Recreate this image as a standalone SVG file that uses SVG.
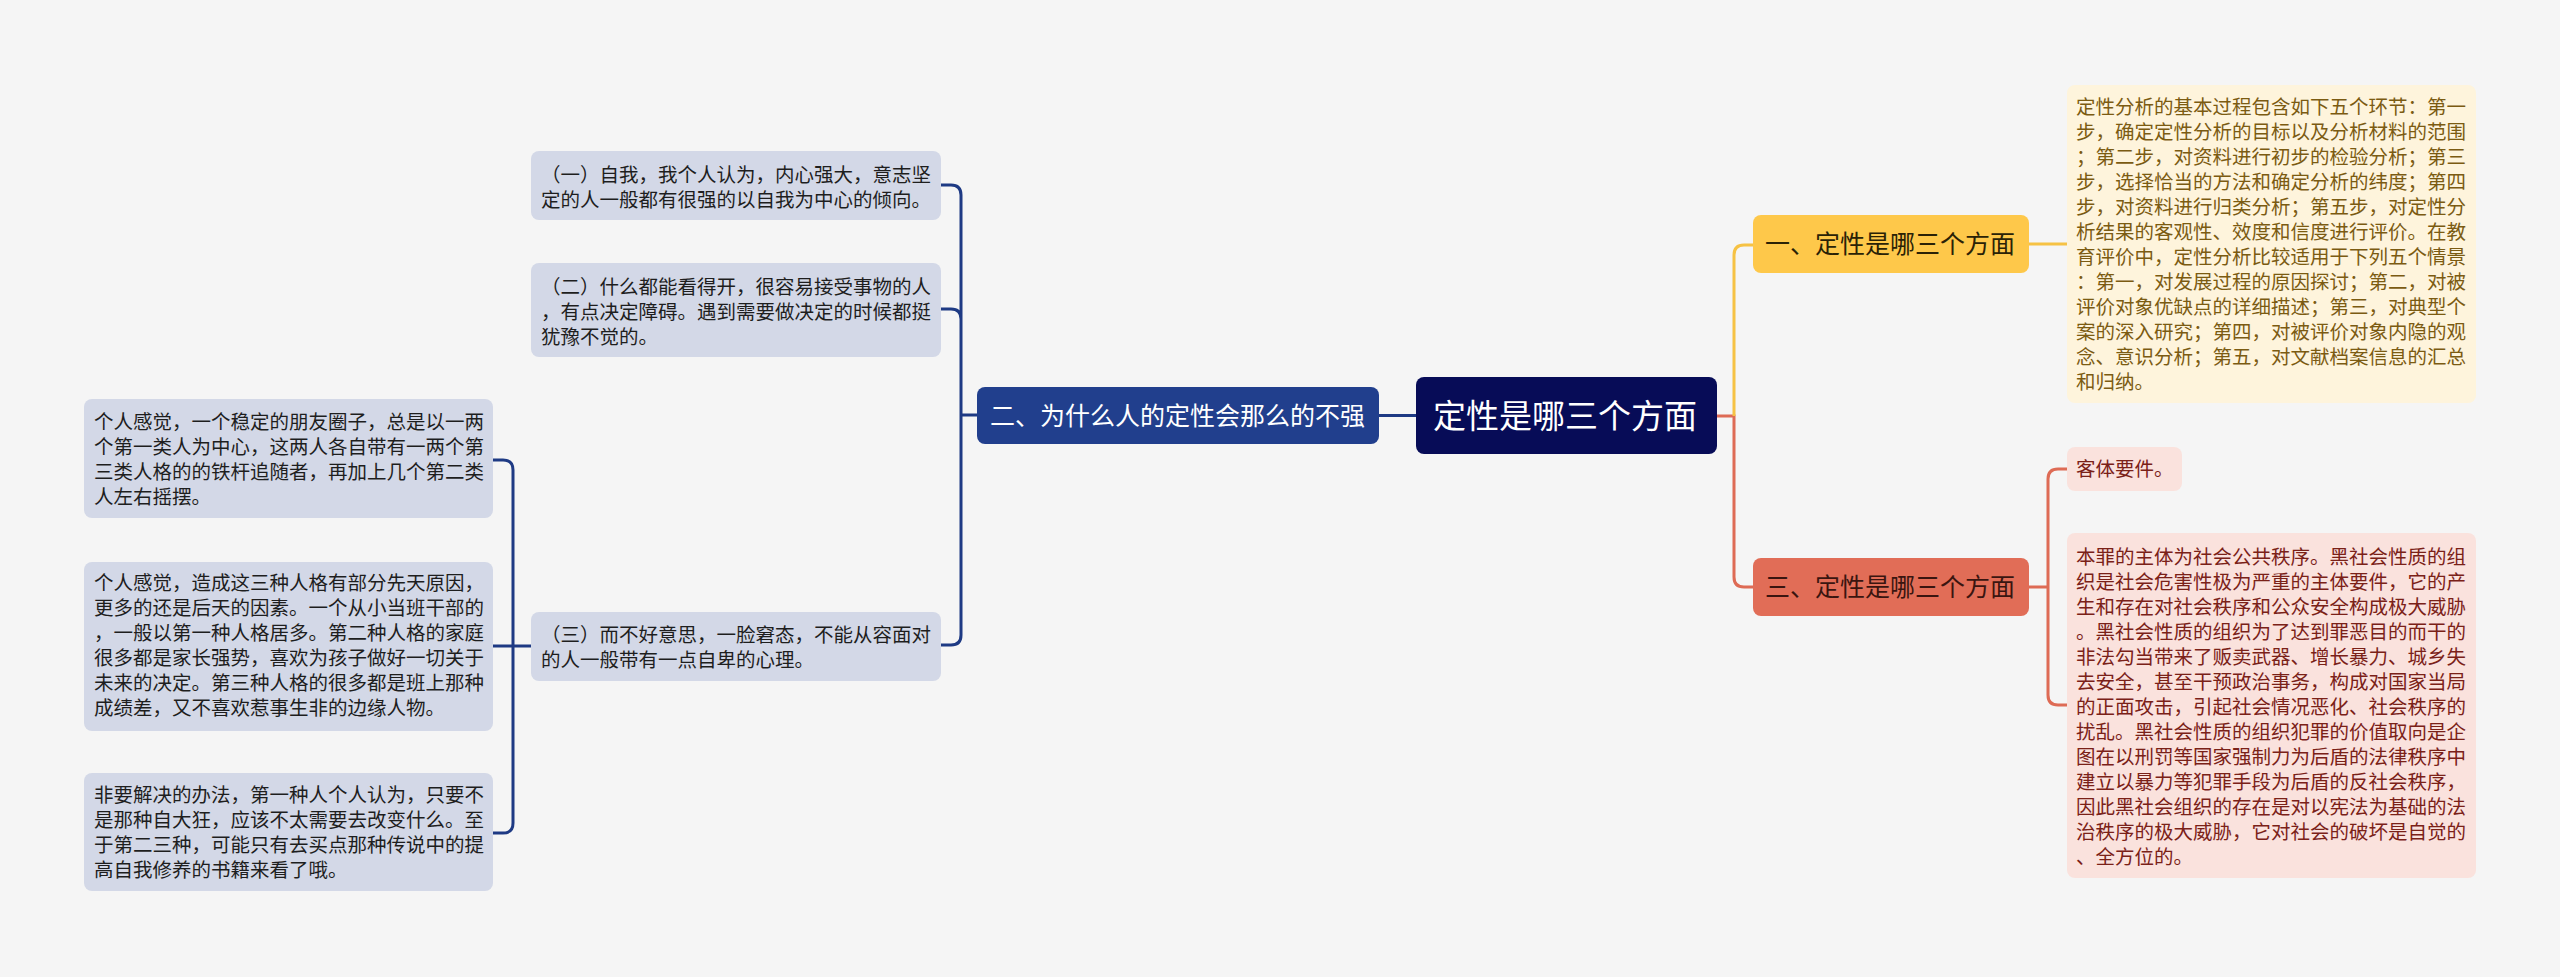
<svg xmlns="http://www.w3.org/2000/svg" width="2560" height="977" viewBox="0 0 2560 977">
<style>
text{font-family:"Noto Sans CJK SC","Noto Sans",sans-serif;}
.leaf{font-size:19.5px;}
.bl{fill:#D3D8E7;}
.bt{fill:#1E1E1E;}
.yl{fill:#FEF4DC;}
.yt{fill:#7B5B12;}
.rl{fill:#FAE2DD;}
.rt{fill:#7A2118;}
.cb{fill:none;stroke:#1E3A84;stroke-width:3;}
.cy{fill:none;stroke:#F6C244;stroke-width:3;}
.cr{fill:none;stroke:#DE6B55;stroke-width:3;}
</style>
<rect width="2560" height="977" fill="#F5F5F5"/>
<g id="connectors">
<path class="cb" d="M1416 415.5 H1379"/>
<path class="cb" d="M977 415 H961 M961 415 V195 Q961 185 951 185 H941 M961 319 Q961 309 951 309 H941 M961 415 V635 Q961 645 951 645 H941"/>
<path class="cb" d="M531 646 H513 M513 646 V470 Q513 460 503 460 H493 M513 646 H493 M513 646 V823 Q513 833 503 833 H493"/>
<path class="cr" d="M1717 416 H1734 V577 Q1734 587 1744 587 H1753"/>
<path class="cy" d="M1734 416 V255 Q1734 245 1744 245 H1753"/>
<path class="cy" d="M2029 244 H2067"/>
<path class="cr" d="M2029 587 H2048 M2048 587 V479 Q2048 469 2058 469 H2067 M2048 587 V695 Q2048 705 2058 705 H2067"/>
</g>
<g id="root">
<rect x="1416" y="377" width="301" height="77" rx="8" fill="#070C57"/>
<text x="1433" y="428" font-size="33" fill="#FFFFFF">定性是哪三个方面</text>
</g>
<g id="n2">
<rect x="977" y="387" width="402" height="57" rx="8" fill="#213F8D"/>
<text x="990" y="424.5" font-size="25" fill="#FFFFFF">二、为什么人的定性会那么的不强</text>
</g>
<g id="n1">
<rect x="1753" y="215" width="276" height="58" rx="8" fill="#FEC84A"/>
<text x="1765" y="253" font-size="25" fill="#2A2206">一、定性是哪三个方面</text>
</g>
<g id="n3">
<rect x="1753" y="558" width="276" height="58" rx="8" fill="#E16D57"/>
<text x="1765" y="596" font-size="25" fill="#3A1510">三、定性是哪三个方面</text>
</g>
<g id="n2a">
<rect class="bl" x="531" y="151" width="410" height="69" rx="8"/>
<text class="leaf bt" x="541" y="182">（一）自我，我个人认为，内心强大，意志坚</text>
<text class="leaf bt" x="541" y="207">定的人一般都有很强的以自我为中心的倾向。</text>
</g>
<g id="n2b">
<rect class="bl" x="531" y="263" width="410" height="94" rx="8"/>
<text class="leaf bt" x="541" y="294">（二）什么都能看得开，很容易接受事物的人</text>
<text class="leaf bt" x="541" y="319">，有点决定障碍。遇到需要做决定的时候都挺</text>
<text class="leaf bt" x="541" y="344">犹豫不觉的。</text>
</g>
<g id="n2c">
<rect class="bl" x="531" y="612" width="410" height="69" rx="8"/>
<text class="leaf bt" x="541" y="642">（三）而不好意思，一脸窘态，不能从容面对</text>
<text class="leaf bt" x="541" y="667">的人一般带有一点自卑的心理。</text>
</g>
<g id="n2c1">
<rect class="bl" x="84" y="399" width="409" height="119" rx="8"/>
<text class="leaf bt" x="94" y="429">个人感觉，一个稳定的朋友圈子，总是以一两</text>
<text class="leaf bt" x="94" y="454">个第一类人为中心，这两人各自带有一两个第</text>
<text class="leaf bt" x="94" y="479">三类人格的的铁杆追随者，再加上几个第二类</text>
<text class="leaf bt" x="94" y="504">人左右摇摆。</text>
</g>
<g id="n2c2">
<rect class="bl" x="84" y="562" width="409" height="169" rx="8"/>
<text class="leaf bt" x="94" y="590">个人感觉，造成这三种人格有部分先天原因，</text>
<text class="leaf bt" x="94" y="615">更多的还是后天的因素。一个从小当班干部的</text>
<text class="leaf bt" x="94" y="640">，一般以第一种人格居多。第二种人格的家庭</text>
<text class="leaf bt" x="94" y="665">很多都是家长强势，喜欢为孩子做好一切关于</text>
<text class="leaf bt" x="94" y="690">未来的决定。第三种人格的很多都是班上那种</text>
<text class="leaf bt" x="94" y="715">成绩差，又不喜欢惹事生非的边缘人物。</text>
</g>
<g id="n2c3">
<rect class="bl" x="84" y="773" width="409" height="118" rx="8"/>
<text class="leaf bt" x="94" y="802">非要解决的办法，第一种人个人认为，只要不</text>
<text class="leaf bt" x="94" y="827">是那种自大狂，应该不太需要去改变什么。至</text>
<text class="leaf bt" x="94" y="852">于第二三种，可能只有去买点那种传说中的提</text>
<text class="leaf bt" x="94" y="877">高自我修养的书籍来看了哦。</text>
</g>
<g id="n1a">
<rect class="yl" x="2067" y="85" width="409" height="318" rx="8"/>
<text class="leaf yt" x="2076" y="114">定性分析的基本过程包含如下五个环节：第一</text>
<text class="leaf yt" x="2076" y="139">步，确定定性分析的目标以及分析材料的范围</text>
<text class="leaf yt" x="2076" y="164">；第二步，对资料进行初步的检验分析；第三</text>
<text class="leaf yt" x="2076" y="189">步，选择恰当的方法和确定分析的纬度；第四</text>
<text class="leaf yt" x="2076" y="214">步，对资料进行归类分析；第五步，对定性分</text>
<text class="leaf yt" x="2076" y="239">析结果的客观性、效度和信度进行评价。在教</text>
<text class="leaf yt" x="2076" y="264">育评价中，定性分析比较适用于下列五个情景</text>
<text class="leaf yt" x="2076" y="289">：第一，对发展过程的原因探讨；第二，对被</text>
<text class="leaf yt" x="2076" y="314">评价对象优缺点的详细描述；第三，对典型个</text>
<text class="leaf yt" x="2076" y="339">案的深入研究；第四，对被评价对象内隐的观</text>
<text class="leaf yt" x="2076" y="364">念、意识分析；第五，对文献档案信息的汇总</text>
<text class="leaf yt" x="2076" y="389">和归纳。</text>
</g>
<g id="n3a">
<rect class="rl" x="2067" y="447" width="115" height="44" rx="8"/>
<text class="leaf rt" x="2076" y="476">客体要件。</text>
</g>
<g id="n3b">
<rect class="rl" x="2067" y="533" width="409" height="345" rx="8"/>
<text class="leaf rt" x="2076" y="564">本罪的主体为社会公共秩序。黑社会性质的组</text>
<text class="leaf rt" x="2076" y="589">织是社会危害性极为严重的主体要件，它的产</text>
<text class="leaf rt" x="2076" y="614">生和存在对社会秩序和公众安全构成极大威胁</text>
<text class="leaf rt" x="2076" y="639">。黑社会性质的组织为了达到罪恶目的而干的</text>
<text class="leaf rt" x="2076" y="664">非法勾当带来了贩卖武器、增长暴力、城乡失</text>
<text class="leaf rt" x="2076" y="689">去安全，甚至干预政治事务，构成对国家当局</text>
<text class="leaf rt" x="2076" y="714">的正面攻击，引起社会情况恶化、社会秩序的</text>
<text class="leaf rt" x="2076" y="739">扰乱。黑社会性质的组织犯罪的价值取向是企</text>
<text class="leaf rt" x="2076" y="764">图在以刑罚等国家强制力为后盾的法律秩序中</text>
<text class="leaf rt" x="2076" y="789">建立以暴力等犯罪手段为后盾的反社会秩序，</text>
<text class="leaf rt" x="2076" y="814">因此黑社会组织的存在是对以宪法为基础的法</text>
<text class="leaf rt" x="2076" y="839">治秩序的极大威胁，它对社会的破坏是自觉的</text>
<text class="leaf rt" x="2076" y="864">、全方位的。</text>
</g>
</svg>
